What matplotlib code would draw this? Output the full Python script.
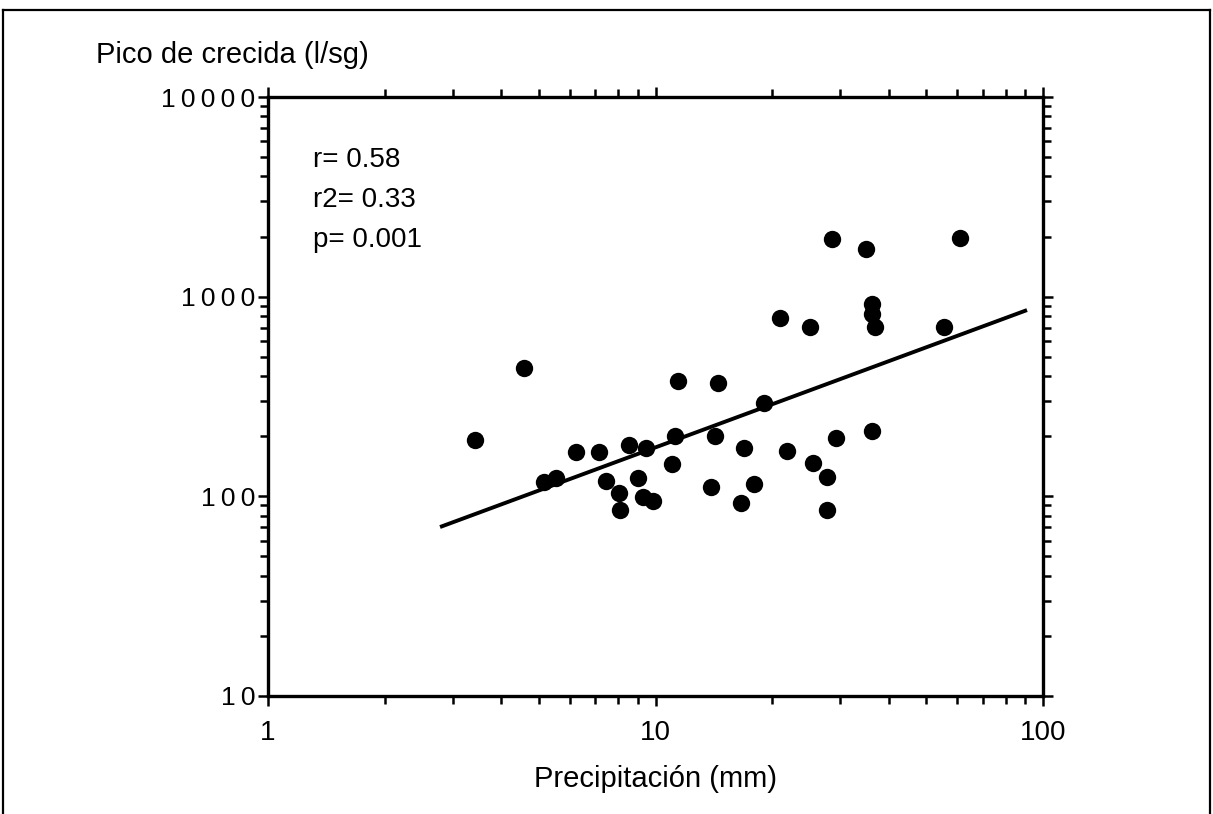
import matplotlib
matplotlib.use("Agg")
import matplotlib.pyplot as plt
import numpy as np
from matplotlib.lines import Line2D
from matplotlib.ticker import FixedLocator, FixedFormatter, LogLocator, NullFormatter

plt.rcParams['font.family'] = ['Liberation Sans', 'DejaVu Sans']

# precipitation (mm) and flood peak (l/sg)
precip = [3.42, 4.58, 5.15, 5.54, 6.24, 7.15, 7.45, 8.05, 8.10, 8.55,
          9.01, 9.28, 9.45, 9.86, 11.0, 11.2, 11.4, 13.9, 14.2, 14.5,
          16.6, 16.9, 18.0, 19.1, 21.0, 21.8, 25.0, 25.5, 27.7, 27.7,
          28.5, 29.2, 34.9, 36.2, 36.2, 36.8, 36.2, 55.6, 61.1]
peak = [191, 439, 118, 124, 167, 167, 119, 104, 85, 181,
        124, 99, 175, 95, 145, 200, 378, 111, 200, 369,
        93, 175, 115, 293, 781, 169, 704, 147, 125, 85,
        1943, 196, 1731, 918, 818, 704, 212, 704, 1965]

# power-law fit  peak = a * precip^b
fit_a = 33.7
fit_b = 0.7175
fit_range = [2.78, 90.9]

stats_text = ["r= 0.58", "r2= 0.33", "p= 0.001"]

x_ticks = [1, 10, 100]
x_labels = ["1", "10", "100"]
y_ticks = [10, 100, 1000, 10000]
y_labels = ["1\u20090", "1\u20090\u20090", "1\u20090\u20090\u20090", "1\u20090\u20090\u20090\u20090"]

fig = plt.figure(figsize=(12.13, 8.14), dpi=100)
ax = fig.add_axes([0.2209, 0.145, 0.6390, 0.7358])

fx = np.array(fit_range)
ax.plot(fx, fit_a * fx ** fit_b, color='black', lw=2.8, solid_capstyle='butt')
ax.plot(precip, peak, 'o', color='black', markersize=12.5, markeredgewidth=0)

ax.set_xscale('log')
ax.set_yscale('log')
ax.set_xlim(1, 100)
ax.set_ylim(10, 10000)

ax.xaxis.set_major_locator(FixedLocator(x_ticks))
ax.xaxis.set_major_formatter(FixedFormatter(x_labels))
ax.yaxis.set_major_locator(FixedLocator(y_ticks))
ax.yaxis.set_major_formatter(FixedFormatter(y_labels))
ax.xaxis.set_minor_locator(LogLocator(base=10, subs=np.arange(2, 10)))
ax.yaxis.set_minor_locator(LogLocator(base=10, subs=np.arange(2, 10)))
ax.xaxis.set_minor_formatter(NullFormatter())
ax.yaxis.set_minor_formatter(NullFormatter())

ax.tick_params(which='both', direction='out', top=True, right=True,
               width=1.8, color='black')
ax.tick_params(which='major', length=7)
ax.tick_params(which='minor', length=6)
ax.tick_params(axis='x', labelsize=20, pad=10)
ax.tick_params(axis='y', labelsize=19, pad=2)

for sp in ax.spines.values():
    sp.set_linewidth(2.4)

for i, t in enumerate(stats_text):
    ax.text(0.058, 0.895 - i * 0.067, t, transform=ax.transAxes,
            fontsize=20, va='center', ha='left')

ax.set_xlabel("Precipitación (mm)", fontsize=21, labelpad=14)
fig.text(0.079, 0.932, "Pico de crecida (l/sg)", fontsize=21, va='center', ha='left')

# outer frame of the scanned figure
for xs, ys in [([0.0025, 0.0025], [0.0, 0.9877]),
               ([0.0025, 0.9975], [0.9877, 0.9877]),
               ([0.9975, 0.9975], [0.0, 0.9877])]:
    fig.add_artist(Line2D(xs, ys, transform=fig.transFigure, color='black', lw=1.6))

fig.savefig("out.png", dpi=100)
